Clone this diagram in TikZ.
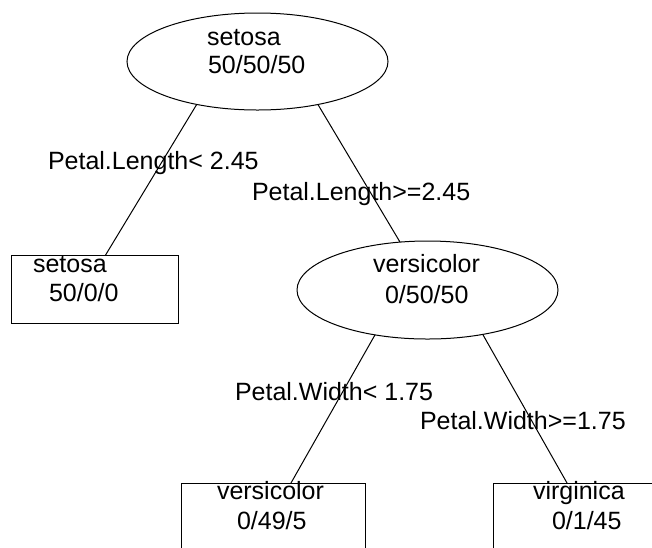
\documentclass[tikz,border=0pt]{standalone}
\usepackage{fontspec}
\setmainfont{Liberation Sans}
\usetikzlibrary{shapes.geometric,backgrounds}
\begin{document}
\begin{tikzpicture}[x=1pt,y=-1pt,
  every node/.style={font=\fontsize{25}{30}\selectfont},
  txt/.style={anchor=base west, inner sep=0pt, outer sep=0pt},
  ell/.style={draw, ellipse, fill=white, inner sep=0pt, outer sep=0pt, line width=1pt},
  leafbox/.style={draw, rectangle, fill=white, inner sep=0pt, outer sep=0pt, line width=1pt},
  edge/.style={line width=1pt}]
\useasboundingbox (0,0) rectangle (652,547);
\clip (0,0) rectangle (652,547);
% nodes
\node[ell, minimum width=261pt, minimum height=97pt] (root) at (257.5,61.5) {};
\node[ell, minimum width=261pt, minimum height=98pt] (vers) at (427.5,290) {};
\node[leafbox, minimum width=167pt, minimum height=68pt] (leafA) at (94.5,289) {};
\node[leafbox, minimum width=184pt, minimum height=117pt] (leafB) at (273,541.5) {};
\node[leafbox, minimum width=207pt, minimum height=117pt] (leafC) at (596.5,541.5) {};
% connector end points (inside nodes, hidden by the white fill)
\coordinate (r1) at (223,61);
\coordinate (r2) at (292,61);
\coordinate (a1) at (85,289);
\coordinate (v0) at (428,289);
\coordinate (v1) at (401,289);
\coordinate (v2) at (457,289);
\coordinate (b1) at (270,520);
\coordinate (c1) at (588,520);
\begin{pgfonlayer}{background}
\fill[white] (0,0) rectangle (652,547);
\draw[edge] (r1) -- (a1);
\draw[edge] (r2) -- (v0);
\draw[edge] (v1) -- (b1);
\draw[edge] (v2) -- (c1);
\end{pgfonlayer}
% node texts
\node[txt] (rootA) at (207,45) {setosa};
\node[txt] (rootB) at (208,73) {50/50/50};
\node[txt] (versA) at (373,272) {versicolor};
\node[txt] (versB) at (385,303) {0/50/50};
\node[txt] (leafAa) at (33,272) {setosa};
\node[txt] (leafAb) at (49,301) {50/0/0};
\node[txt] (leafBa) at (217,499) {versicolor};
\node[txt] (leafBb) at (237,529) {0/49/5};
\node[txt] (leafCa) at (533,499) {virginica};
\node[txt] (leafCb) at (552,529) {0/1/45};
% split labels
\node[txt] (s1) at (48,169) {Petal.Length< 2.45};
\node[txt] (s2) at (252,200) {Petal.Length>=2.45};
\node[txt] (s3) at (235,400) {Petal.Width< 1.75};
\node[txt] (s4) at (420,429) {Petal.Width>=1.75};
\end{tikzpicture}
\end{document}
